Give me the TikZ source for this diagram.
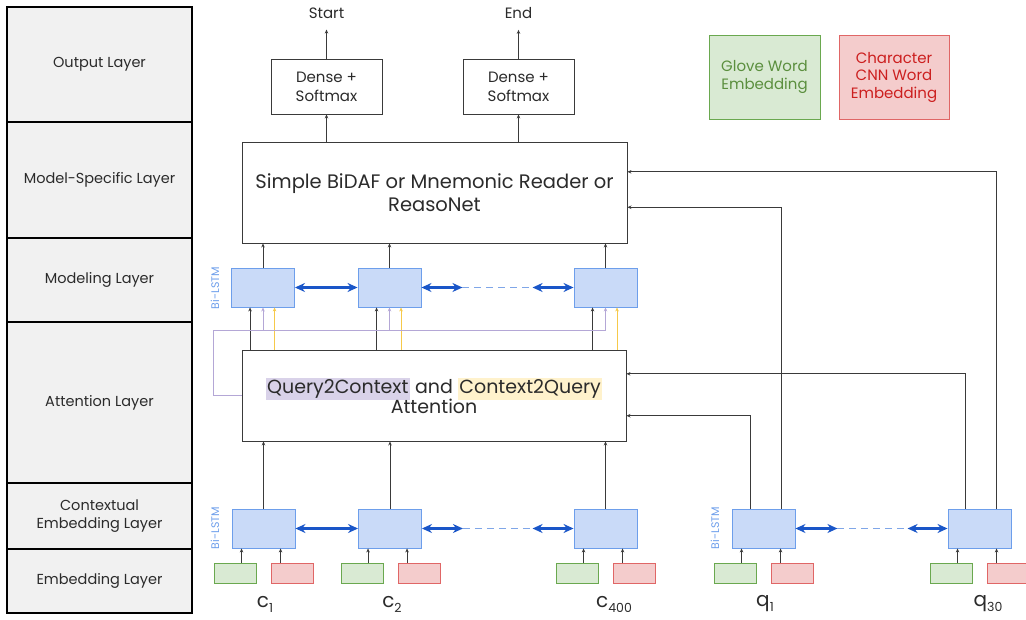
\documentclass[tikz,border=0pt]{standalone}
\usepackage{fontspec}
\setmainfont{Poppins}
\usetikzlibrary{arrows.meta,calc}
\definecolor{lgray}{HTML}{F1F1F1}
\definecolor{txt}{HTML}{2B2B2B}
\definecolor{dgray}{HTML}{3A3A3A}
\definecolor{lstmF}{HTML}{C9DAF8}
\definecolor{lstmB}{HTML}{6D9EEB}
\definecolor{gF}{HTML}{D9EAD3}
\definecolor{gB}{HTML}{6AA84F}
\definecolor{gT}{HTML}{5B8F3E}
\definecolor{rF}{HTML}{F4CCCC}
\definecolor{rB}{HTML}{E06666}
\definecolor{rT}{HTML}{CC1F1F}
\definecolor{bblue}{HTML}{1A56C8}
\definecolor{dblue}{HTML}{7FA6E8}
\definecolor{purpL}{HTML}{B4A7D6}
\definecolor{purpH}{HTML}{D9D2E9}
\definecolor{yelL}{HTML}{F6C94A}
\definecolor{yelH}{HTML}{FFF2CC}
\newcommand{\fs}[2]{\fontsize{#1pt}{#2pt}\selectfont}
\newcommand{\sbs}[1]{\raisebox{-5pt}{\fontsize{12.5pt}{12.5pt}\selectfont #1}}
\begin{document}
\begin{tikzpicture}[x=1pt,y=-1pt,
  layer/.style={draw=black, line width=1.3pt, fill=lgray, minimum width=185pt, text=txt, align=center, inner sep=0pt, font=\fs{14.5}{17.5}},
  box/.style={draw=dgray, line width=0.9pt, fill=white, align=center, text=txt, inner sep=0pt},
  lstm/.style={draw=lstmB, fill=lstmF, line width=0.9pt, minimum width=63pt, minimum height=39pt, inner sep=0pt},
  gemb/.style={draw=gB, fill=gF, line width=0.9pt, minimum width=42pt, minimum height=20pt, inner sep=0pt},
  remb/.style={draw=rB, fill=rF, line width=0.9pt, minimum width=42pt, minimum height=20pt, inner sep=0pt},
  conn/.style={draw=dgray, line width=0.9pt, -{Stealth[length=4pt,width=3.5pt]}},
  pconn/.style={draw=purpL, line width=0.9pt, -{Stealth[length=4pt,width=3.5pt]}},
  yconn/.style={draw=yelL, line width=0.9pt, -{Stealth[length=4pt,width=3.5pt]}},
  bi/.style={draw=bblue, line width=2.3pt, {Stealth[length=10pt,width=9pt]}-{Stealth[length=10pt,width=9pt]}},
  dsh/.style={draw=dblue, line width=1.8pt, dash pattern=on 7pt off 5pt},
  bil/.style={rotate=90, text=lstmB, font=\fs{11}{13}, inner sep=0pt},
  tok/.style={text=txt, font=\fs{20}{23}, inner sep=0pt}
]
\useasboundingbox (0,0) rectangle (1026,620);

% layer column
\node[layer, minimum height=115pt] (L1) at (99.5,64.5) {Output Layer};
\node[layer, minimum height=116pt] (L2) at (99.5,180) {Model-Specific Layer};
\node[layer, minimum height=84pt] (L3) at (99.5,280) {Modeling Layer};
\node[layer, minimum height=161pt] (L4) at (99.5,402.5) {Attention Layer};
\node[layer, minimum height=66pt] (L5) at (99.5,516) {Contextual\\Embedding Layer};
\node[layer, minimum height=64pt] (L6) at (99.5,581) {Embedding Layer};

% legend
\node[gemb, minimum width=111pt, minimum height=84pt, text=gT, align=center, font=\fs{15}{17.5}] (lg) at (764.5,77) {Glove Word\\Embedding};
\node[remb, minimum width=110pt, minimum height=84pt, text=rT, align=center, font=\fs{15}{17.5}] (lr) at (894,77) {Character\\CNN Word\\Embedding};

% output layer
\node[box, minimum width=111pt, minimum height=55pt, font=\fs{15}{19}] (d1) at (326.5,86.5) {Dense +\\Softmax};
\node[box, minimum width=111pt, minimum height=55pt, font=\fs{15}{19}] (d2) at (518.5,86.5) {Dense +\\Softmax};
\node[text=txt, font=\fs{15}{18}, inner sep=0pt] (st) at (326.5,13) {Start};
\node[text=txt, font=\fs{15}{18}, inner sep=0pt] (en) at (518.5,13) {End};

% model specific
\node[box, minimum width=385pt, minimum height=101pt, font=\fs{19.5}{23}] (m) at (434.5,192.5) {Simple BiDAF or Mnemonic Reader or\\ReasoNet};

% modeling layer
\node[lstm] (b1) at (263,287.5) {};
\node[lstm] (b2) at (389.5,287.5) {};
\node[lstm] (b3) at (605.5,287.5) {};
\node[bil] (bl1) at (215,288) {Bi-LSTM};

% attention
\setlength{\fboxsep}{1.5pt}
\node[box, minimum width=384pt, minimum height=91pt, font=\fs{19}{23}] (a) at (434,395.5) {\colorbox{purpH}{Query2Context} and \colorbox{yelH}{Context2Query}\\[-3pt]Attention};

% contextual
\node[lstm] (c1) at (263.5,528.5) {};
\node[lstm] (c2) at (390,528.5) {};
\node[lstm] (c3) at (605.5,528.5) {};
\node[lstm] (q1) at (763.5,528.5) {};
\node[lstm] (q2) at (979.5,528.5) {};
\node[bil] (bl2) at (215,528) {Bi-LSTM};
\node[bil] (bl3) at (715,528) {Bi-LSTM};

% embeddings
\node[gemb] (g1) at (235,573) {};
\node[remb] (r1) at (292,573) {};
\node[gemb] (g2) at (362,573) {};
\node[remb] (r2) at (419,573) {};
\node[gemb] (g3) at (577.5,573) {};
\node[remb] (r3) at (634.5,573) {};
\node[gemb] (g4) at (735,573) {};
\node[remb] (r4) at (792,573) {};
\node[gemb] (g5) at (951,573) {};
\node[remb] (r5) at (1008,573) {};

% tokens
\node[tok] (t1) at (265,604) {c\sbs{1}};
\node[tok] (t2) at (392,604) {c\sbs{2}};
\node[tok] (t3) at (614,604) {c\sbs{400}};
\node[tok] (t4) at (765,604) {q\sbs{1}};
\node[tok] (t5) at (988,604) {q\sbs{30}};

% output arrows
\draw[conn, shorten >=11pt] (d1.north) -- (st.south);
\draw[conn, shorten >=11pt] (d2.north) -- (en.south);
\draw[conn] (d1.south |- m.north) -- (d1.south);
\draw[conn] (d2.south |- m.north) -- (d2.south);

% modeling -> model specific
\foreach \b in {b1,b2,b3} {\draw[conn] (\b.north) -- (\b.north |- m.south);}

% attention -> modeling
\foreach \b in {b1,b2,b3} {
  \path ($(\b.south west)+(19,0)$) coordinate (kb) ($(\b.south west)+(43.5,0)$) coordinate (yb);
  \draw[conn] (kb |- a.north) -- (kb);
  \draw[yconn] (yb |- a.north) -- (yb);
}
\coordinate (pp) at (213,330);
\draw[draw=purpL, line width=0.9pt] (a.west) -| (pp) -- (pp -| b3.south);
\foreach \b in {b1,b2,b3} {\draw[pconn] (\b.south |- pp) -- (\b.south);}

% bi arrows modeling
\draw[bi] (b1.east) -- (b2.west);
\draw[bi] (b2.east) -- ++(41,0) coordinate (m1);
\draw[bi] ($(b3.west)+(-41,0)$) coordinate (m2) -- (b3.west);
\draw[dsh] (m1) -- (m2);

% context -> attention
\foreach \c in {c1,c2,c3} {\draw[conn] (\c.north) -- (\c.north |- a.south);}

% bi arrows context
\draw[bi] (c1.east) -- (c2.west);
\draw[bi] (c2.east) -- ++(41,0) coordinate (n1);
\draw[bi] ($(c3.west)+(-41,0)$) coordinate (n2) -- (c3.west);
\draw[dsh] (n1) -- (n2);
\draw[bi] (q1.east) -- ++(42,0) coordinate (k1);
\draw[bi] ($(q2.west)+(-40,0)$) coordinate (k2) -- (q2.west);
\draw[dsh] (k1) -- (k2);

% query lines
\draw[conn] ($(q1.north west)+(19,0)$) |- ($(a.north east)!0.72!(a.south east)$);
\draw[conn] ($(q1.north west)+(50,0)$) |- ($(m.north east)!0.645!(m.south east)$);
\draw[conn] ($(q2.north west)+(18,0)$) |- ($(a.north east)!0.264!(a.south east)$);
\draw[conn] ($(q2.north west)+(49,0)$) |- ($(m.north east)!0.297!(m.south east)$);

% embedding -> context
\foreach \c/\g/\r in {c1/g1/r1,c2/g2/r2,c3/g3/r3,q1/g4/r4,q2/g5/r5} {
  \path ($(\c.south west)+(10,0)$) coordinate (ga) ($(\c.south west)+(49,0)$) coordinate (ra);
  \draw[conn] (ga |- \g.north) -- (ga);
  \draw[conn] (ra |- \r.north) -- (ra);
}
\end{tikzpicture}
\end{document}
